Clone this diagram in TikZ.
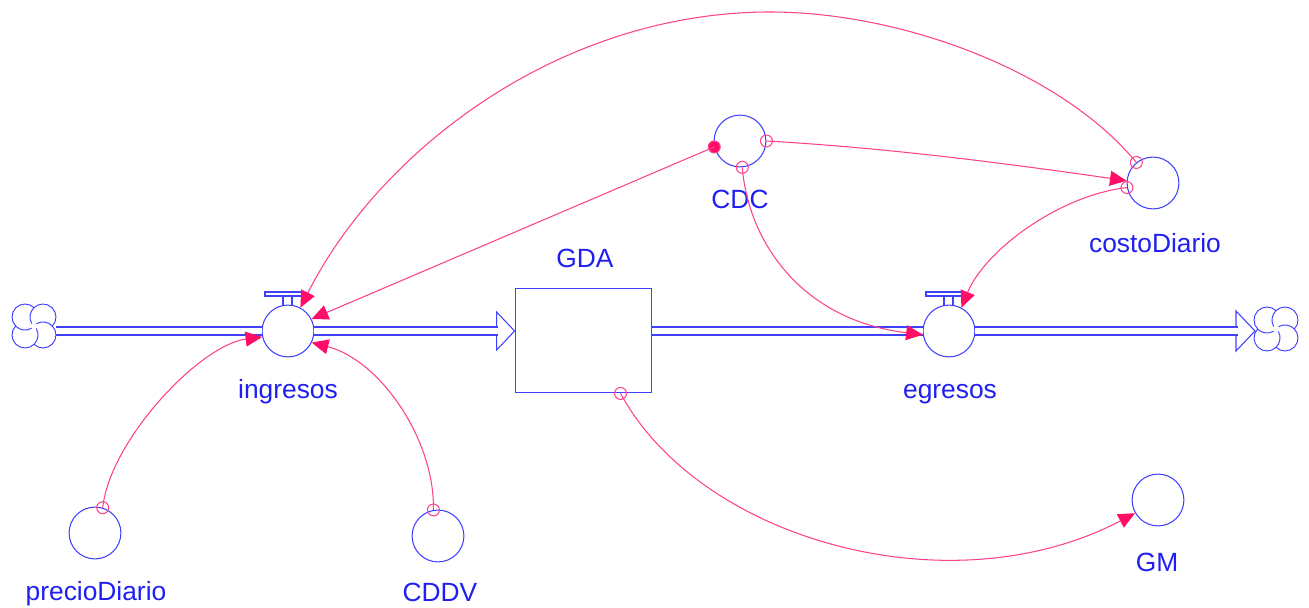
\documentclass[tikz,border=0pt]{standalone}
\usepackage{fontspec}
\setmainfont{Liberation Sans}
\usetikzlibrary{arrows.meta}
\usetikzlibrary{calc}
\definecolor{mblue}{rgb}{0.25, 0.25, 1}
\definecolor{mtext}{rgb}{0.12, 0.12, 0.95}
\definecolor{mpink}{rgb}{1, 0.25, 0.55}
\definecolor{mhead}{rgb}{1, 0.05, 0.4}
\tikzset{aux/.style = {circle, draw=mblue, fill=white, line width=0.6pt,
                       minimum size=29.5pt, inner sep=0pt}}
\tikzset{lbl/.style = {text=mtext, anchor=base, font=\fontsize{15}{18}\selectfont}}
\tikzset{pipe/.style = {draw=mblue, line width=0.75pt, double=white, double distance=3.8pt}}
\tikzset{tail/.style = {circle, draw=mpink, line width=0.6pt, minimum size=6.8pt, inner sep=0pt}}
\tikzset{link/.style = {draw=mpink, line width=0.6pt,
                        -{Triangle[length=9.5pt, width=8.5pt, color=mhead]}}}

\begin{document}
\begin{tikzpicture}[x=0.02cm, y=-0.02cm]
    \useasboundingbox (0, 0) rectangle (1309, 608);

    % clouds
    \node [circle, minimum size=25pt, inner sep=0pt] (srccloud) at (34, 326) {};
    \node [circle, minimum size=25pt, inner sep=0pt] (sinkcloud) at (1276, 329) {};
    \foreach \cl in {srccloud, sinkcloud} {
      \begin{scope}[shift={(\cl)}, y=0.02cm]
        \foreach \a in {0, 90, 180, 270}
          \draw [mblue, line width=0.55pt] ({\a+135}:12.7) ++({\a+46}:13)
                arc [start angle=\a+46, end angle=\a+300, radius=13];
      \end{scope}
    }

    % stock and valves
    \node [draw=mblue, line width=0.75pt, minimum width=77.7pt, minimum height=59.5pt, inner sep=0pt] (gda) at (583.5, 340.5) {};
    \node [aux] (ingresos) at (288, 331) {};
    \node [aux] (egresos) at (949, 331) {};
    \foreach \v in {ingresos, egresos} {
      \draw [mblue, line width=0.6pt] ($(\v)+(-23, -39)$) rectangle ($(\v)+(15, -35)$);
      \draw [mblue, line width=0.6pt] ($(\v)+(-5, -35)$) -- ($(\v)+(-5, -26)$);
      \draw [mblue, line width=0.6pt] ($(\v)+(4, -35)$) -- ($(\v)+(4, -26)$);
    }

    % pipes
    \coordinate (gdaTip) at (gda.west |- ingresos);
    \coordinate (sinkTip) at (1255, 331);
    \draw [mblue, line width=0.6pt, fill=white] ($(gdaTip)+(-18, -19)$) -- (gdaTip) -- ($(gdaTip)+(-18, 19)$) -- cycle;
    \draw [mblue, line width=0.6pt, fill=white] ($(sinkTip)+(-19, -20)$) -- (sinkTip) -- ($(sinkTip)+(-19, 20)$) -- cycle;
    \draw [pipe] (srccloud.east |- ingresos) -- (ingresos.west);
    \draw [pipe] (ingresos.east) -- ($(gdaTip)+(-16.5, 0)$);
    \draw [pipe] (gda.east |- egresos) -- (egresos.west);
    \draw [pipe] (egresos.east) -- ($(sinkTip)+(-17.5, 0)$);

    % auxiliaries
    \node [aux] (cdc) at (740, 141) {};
    \node [aux] (costo) at (1153, 183) {};
    \node [aux] (precio) at (95, 533) {};
    \node [aux] (cddv) at (438, 536) {};
    \node [aux] (gm) at (1158, 500) {};

    % labels
    \node [lbl] (gdaLbl) at (585, 267) {GDA};
    \node [lbl] (ingresosLbl) at (288, 398) {ingresos};
    \node [lbl] (egresosLbl) at (950, 398) {egresos};
    \node [lbl] (cdcLbl) at (740, 209) {CDC};
    \node [lbl] (costoLbl) at (1155, 252) {costoDiario};
    \node [lbl] (precioLbl) at (96, 600) {precioDiario};
    \node [lbl] (cddvLbl) at (440, 601) {CDDV};
    \node [lbl] (gmLbl) at (1157, 571) {GM};

    % link tails
    \node [tail] (tPrecio) at (precio.73) {};
    \node [tail] (tCddv) at (cddv.100) {};
    \node [tail, fill=mhead] (tCdcL) at (cdc.193) {};
    \node [tail] (tCdcR) at (cdc.0) {};
    \node [tail] (tCdcB) at (cdc.-85) {};
    \node [tail] (tCostoA) at (costo.129) {};
    \node [tail] (tCostoB) at (costo.190) {};
    \node [tail] (tGda) at (gda.-55) {};

    % links
    \draw [link] (tPrecio.center) .. controls (110, 440) and (200, 345) .. (ingresos.193);
    \draw [link] (tCddv.center) .. controls (435, 440) and (380, 360) .. (ingresos.-26);
    \draw [link] (tCdcL.center) -- (ingresos.27);
    \draw [link] (tCostoA.center) .. controls (1060, 70) and (900, 12) .. (770, 12)
                 .. controls (560, 12) and (380, 150) .. (ingresos.62);
    \draw [link] (tCdcR.center) .. controls (890, 148) and (1010, 164) .. (costo.175);
    \draw [link] (tCdcB.center) .. controls (748, 240) and (800, 320) .. (egresos.188);
    \draw [link] (tCostoB.center) .. controls (1060, 195) and (985, 250) .. (egresos.62);
    \draw [link] (tGda.center) .. controls (700, 540) and (950, 610) .. (gm.210);
\end{tikzpicture}
\end{document}
